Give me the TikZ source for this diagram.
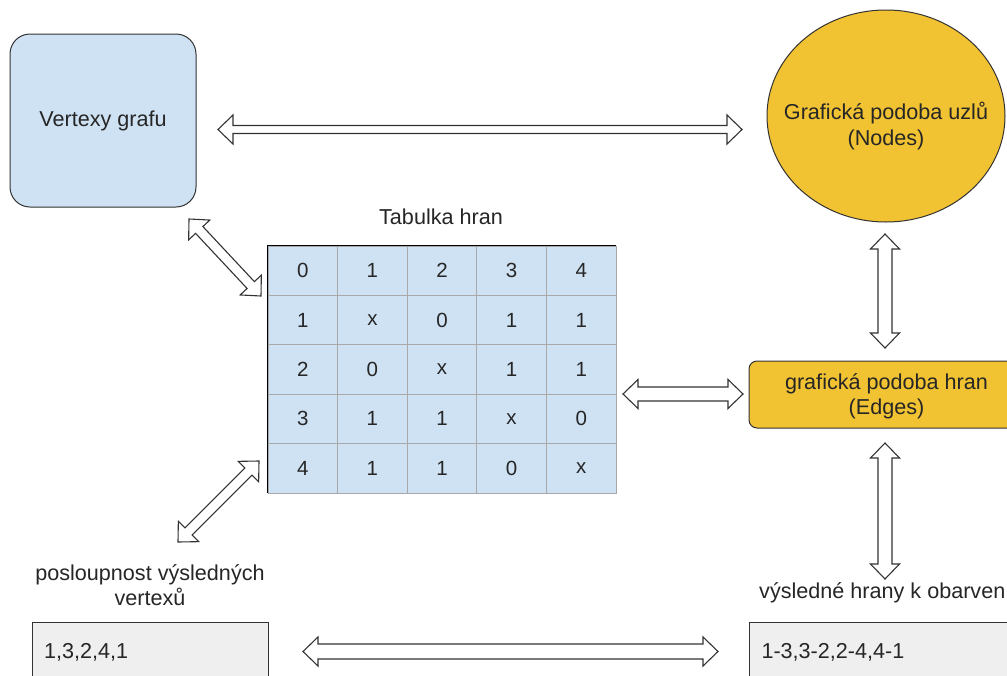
\documentclass[tikz,border=0pt]{standalone}
\usepackage{fontspec}
\setmainfont{Liberation Sans}
\usetikzlibrary{calc,shapes.geometric}
\definecolor{lblue}{HTML}{CFE2F3}
\definecolor{gold}{HTML}{F1C232}
\definecolor{lgray}{HTML}{EFEFEF}
\definecolor{edgec}{HTML}{333333}
\definecolor{gridc}{HTML}{A8A8A8}
\newcommand\blockarrow[3]{%
  \draw[blockarr] (#1)
  -- ($(#1)!15pt!(#2)!14.5pt!90:(#2)$)
  -- ($(#1)!15pt!(#2)!#3!90:(#2)$)
  -- ($(#2)!15pt!(#1)!#3!-90:(#1)$)
  -- ($(#2)!15pt!(#1)!14.5pt!-90:(#1)$)
  -- (#2)
  -- ($(#2)!15pt!(#1)!14.5pt!90:(#1)$)
  -- ($(#2)!15pt!(#1)!#3!90:(#1)$)
  -- ($(#1)!15pt!(#2)!#3!-90:(#2)$)
  -- ($(#1)!15pt!(#2)!14.5pt!-90:(#2)$)
  -- cycle;}
\tikzset{
  blockarr/.style={draw=edgec, fill=white, line width=1.1pt, line join=miter},
  txt/.style={font=\fontsize{21.6}{25.5}\selectfont, text=black!85, align=center},
  bluebox/.style={txt, draw=edgec, fill=lblue, line width=1pt, rounded corners=20pt},
  goldell/.style={ellipse, draw=edgec, fill=gold, line width=1pt, inner sep=0pt},
  goldbox/.style={txt, draw=edgec, fill=gold, line width=1pt, rounded corners=8pt},
  graybox/.style={font=\fontsize{21.6}{25.5}\selectfont, text=black!85, draw=edgec, fill=lgray, line width=1pt, align=left},
  cell/.style={font=\fontsize{20.5}{24}\selectfont, text=black!85, draw=gridc, fill=lblue, line width=0.8pt, minimum width=69.6pt, minimum height=49.4pt, inner sep=0pt}
}
\begin{document}
\begin{tikzpicture}[x=1pt, y=-1pt]
\useasboundingbox (0,0) rectangle (1007,675);
\clip (0,0) rectangle (1007,675);
\fill[white] (0,0) rectangle (1007,675);

% main nodes
\node[bluebox, minimum width=186pt, minimum height=173pt] (vert) at (103,120.5) {Vertexy grafu};
\node[goldell, minimum width=238pt, minimum height=212pt] (nodes) at (886,116) {};
\node[txt] (nodestxt) at (886,126) {Grafická podoba uzlů\\(Nodes)};
\node[goldbox, minimum width=275pt, minimum height=67pt] (edges) at (886.5,394.5) {};
\node[txt] (edgestxt) at (886.5,396.5) {grafická podoba hran\\(Edges)};

% table
\node[txt] (ttl) at (441,217) {Tabulka hran};
\foreach \row [count=\r from 0] in {{0,1,2,3,4},{1,x,0,1,1},{2,0,x,1,1},{3,1,1,x,0},{4,1,1,0,x}}{
  \foreach \v [count=\c from 0] in \row {
    \node[cell] (c\r\c) at ({268+69.6*(\c+0.5)},{246+49.4*(\r+0.5)}) {\v};
  }
}
\draw[black, line width=1.3pt] (c40.south west) -- (c00.north west) -- (c04.north east);

% lower texts and boxes
\node[txt] (plab) at (150,585) {posloupnost výsledných\\vertexů};
\node[graybox, anchor=north west, minimum width=236pt, minimum height=60pt, text width=213pt, inner xsep=11pt] (seq) at (32,622) {1,3,2,4,1};
\node[txt, anchor=west, inner sep=0pt] (hlab) at (759,593) {výsledné hrany k obarven};
\node[graybox, anchor=north west, minimum width=290pt, minimum height=60pt, text width=266pt, inner xsep=12pt] (hseq) at (749,622) {1-3,3-2,2-4,4-1};

% arrow end points
\coordinate (a1s) at (218,129.5); \coordinate (a1e) at (742,129.5);
\coordinate (a2s) at (189,219);   \coordinate (a2e) at (261,296);
\coordinate (a3s) at (259,461);   \coordinate (a3e) at (178,542);
\coordinate (a4s) at (623,394);   \coordinate (a4e) at (743,394);
\coordinate (a5s) at (885,234);   \coordinate (a5e) at (885,348);
\coordinate (a6s) at (885,443);   \coordinate (a6e) at (885,579);
\coordinate (a7s) at (303,651.5); \coordinate (a7e) at (718,651.5);

\blockarrow{a1s}{a1e}{4pt}
\blockarrow{a2s}{a2e}{5pt}
\blockarrow{a3s}{a3e}{5pt}
\blockarrow{a4s}{a4e}{7pt}
\blockarrow{a5s}{a5e}{7pt}
\blockarrow{a6s}{a6e}{7pt}
\blockarrow{a7s}{a7e}{7.5pt}
\end{tikzpicture}
\end{document}
